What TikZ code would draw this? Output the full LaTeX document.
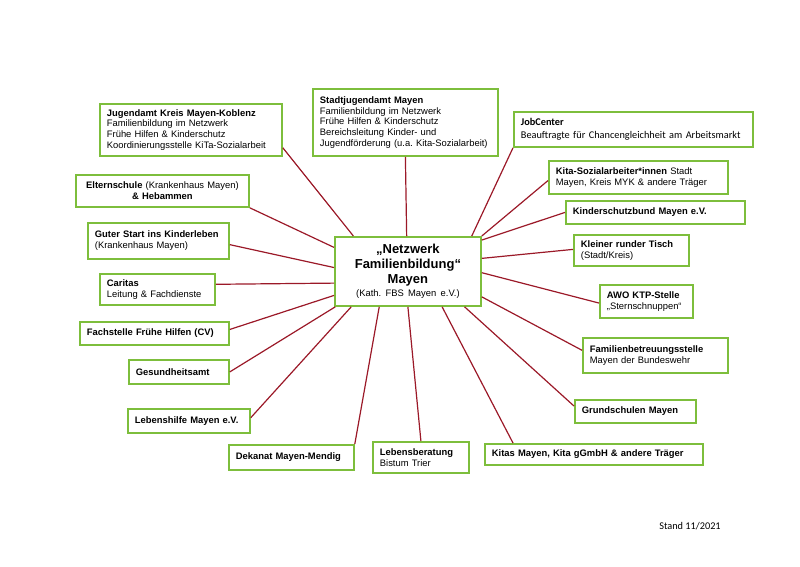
\documentclass[tikz,border=0pt]{standalone}
\usepackage{fontspec}
\setmainfont{Liberation Sans}
\newfontfamily\calibfont{Carlito}
\definecolor{boxgreen}{RGB}{125,190,60}
\definecolor{linkred}{RGB}{155,25,40}
\frenchspacing

\begin{document}
\begin{tikzpicture}[x=1pt,y=-1pt,
  org/.style={draw=boxgreen,line width=1.8pt,fill=white,anchor=north west,align=left,
    inner xsep=7pt,inner ysep=2pt,font=\fontsize{9.4}{10.8}\selectfont},
  link/.style={draw=linkred,line width=1.2pt}]
  \useasboundingbox (0,0) rectangle (800,566);

  % Hub
  \node[org,align=center,text width=132pt,minimum height=69pt,
    font=\fontsize{13}{15}\selectfont\bfseries] (hub) at (334,236)
    {„Netzwerk\\ Familienbildung“\\ Mayen\\[-2pt]
     {\fontsize{9.4}{11}\selectfont\mdseries (Kath. FBS Mayen e.V.)}};

  % Top
  \node[org,text width=168pt,minimum height=52pt] (jug) at (99,103)
    {\textbf{Jugendamt Kreis Mayen-Koblenz}\\ Familienbildung im Netzwerk\\
     Frühe Hilfen \& Kinderschutz\\ Koordinierungsstelle KiTa-Sozialarbeit};
  \node[org,text width=171pt,minimum height=67pt] (stadt) at (312,88)
    {\textbf{Stadtjugendamt Mayen}\\ Familienbildung im Netzwerk\\
     Frühe Hilfen \& Kinderschutz\\ Bereichsleitung Kinder- und\\
     Jugendförderung (u.a. Kita-Sozialarbeit)};
  \node[org,text width=225pt,minimum height=35pt,
    font=\calibfont\fontsize{10.3}{12.5}\selectfont] (job) at (513,111)
    {\textbf{JobCenter}\\ Beauftragte für Chancengleichheit am Arbeitsmarkt};

  % Right
  \node[org,text width=165pt,minimum height=33pt] (kitasoz) at (548,160)
    {\textbf{Kita-Sozialarbeiter*innen} Stadt\\ Mayen, Kreis MYK \& andere Träger};
  \node[org,text width=165pt,minimum height=23pt] (kinder) at (565,200)
    {\textbf{Kinderschutzbund Mayen e.V.}};
  \node[org,text width=101pt,minimum height=31pt] (tisch) at (573,234)
    {\textbf{Kleiner runder Tisch}\\ (Stadt/Kreis)};
  \node[org,text width=79pt,minimum height=33pt] (awo) at (599,284)
    {\textbf{AWO KTP-Stelle}\\ „Sternschnuppen“};
  \node[org,text width=131pt,minimum height=35pt] (famb) at (582,337)
    {\textbf{Familienbetreuungsstelle}\\ Mayen der Bundeswehr};
  \node[org,text width=107pt,minimum height=23pt] (grund) at (574,399)
    {\textbf{Grundschulen Mayen}};

  % Bottom
  \node[org,text width=204pt,minimum height=21pt] (kitas) at (484,443)
    {\textbf{Kitas Mayen, Kita gGmbH \& andere Träger}};
  \node[org,text width=82pt,minimum height=31pt] (leb) at (372,441)
    {\textbf{Lebensberatung}\\ Bistum Trier};
  \node[org,text width=111pt,minimum height=25pt] (dek) at (228,444)
    {\textbf{Dekanat Mayen-Mendig}};

  % Left
  \node[org,text width=108pt,minimum height=24pt] (lhilfe) at (127,408)
    {\textbf{Lebenshilfe Mayen e.V.}};
  \node[org,text width=86pt,minimum height=24pt] (gesund) at (128,359)
    {\textbf{Gesundheitsamt}};
  \node[org,text width=135pt,minimum height=23pt] (fach) at (79,321)
    {\textbf{Fachstelle Frühe Hilfen (CV)}};
  \node[org,text width=101pt,minimum height=31pt] (caritas) at (99,273)
    {\textbf{Caritas}\\ Leitung \& Fachdienste};
  \node[org,text width=127pt,minimum height=36pt] (guter) at (87,222)
    {\textbf{Guter Start ins Kinderleben}\\ (Krankenhaus Mayen)};
  \node[org,align=center,text width=159pt,minimum height=32pt] (eltern) at (75,174)
    {\textbf{Elternschule} (Krankenhaus Mayen)\\ \textbf{\& Hebammen}};

  \node[font=\calibfont\fontsize{10.3}{12}\selectfont] (stand) at (690,526) {Stand 11/2021};

  % Links
  \coordinate (kitasin) at ([xshift=29pt]kitas.north west);
  \foreach \a/\b in {147/jug.349, 92/stadt.south, 29/job.south west,
      north east/kitasoz.182, 23/kinder.west, 10/tisch.179, 359/awo.182,
      341/famb.176, 328/grund.175, 314/kitasin, south/leb.north,
      231/dek.north east, 212/lhilfe.3, 206/gesund.east, 198/fach.3,
      189/caritas.5, 177/guter.357, 162/eltern.south east}
    \draw[link] (hub.\a) -- (\b);
\end{tikzpicture}
\end{document}
